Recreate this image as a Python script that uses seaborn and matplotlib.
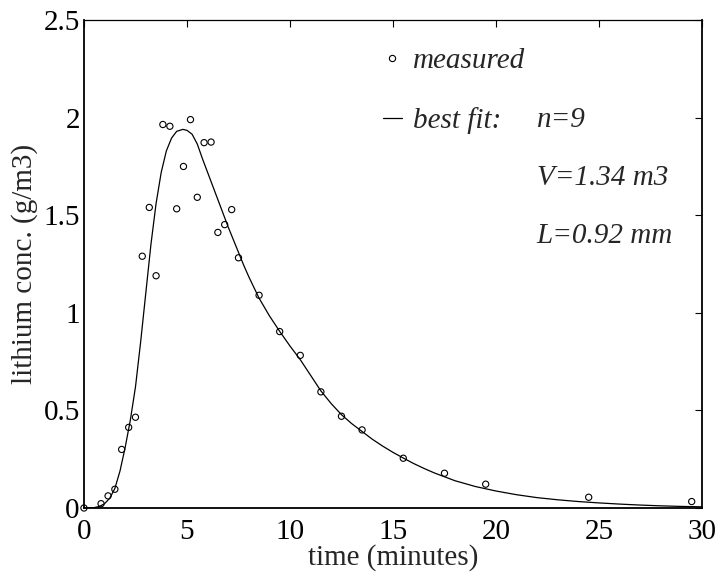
import matplotlib
matplotlib.use("Agg")
import numpy as np
import pandas as pd
import seaborn as sns
import matplotlib.pyplot as plt
from matplotlib.lines import Line2D

# measured lithium concentration
meas_time = [0.0, 0.83, 1.17, 1.5, 1.83, 2.17, 2.5, 2.83, 3.17, 3.5, 3.83, 4.17,
             4.5, 4.83, 5.17, 5.5, 5.83, 6.17, 6.5, 6.83, 7.17, 7.5, 8.5, 9.5,
             10.5, 11.5, 12.5, 13.5, 15.5, 17.5, 19.5, 24.5, 29.5]
meas_conc = [0.0, 0.022, 0.062, 0.096, 0.30, 0.413, 0.465, 1.29, 1.54, 1.19, 1.965, 1.956,
             1.533, 1.75, 1.99, 1.592, 1.872, 1.875, 1.412, 1.452, 1.529, 1.282, 1.09, 0.904,
             0.782, 0.595, 0.47, 0.40, 0.255, 0.178, 0.122, 0.055, 0.033]

# best fit curve
fit_time = [0.0, 0.5, 0.75, 1.0, 1.25, 1.5, 1.75, 2.0, 2.25, 2.5, 2.75, 3.0,
            3.25, 3.5, 3.75, 4.0, 4.25, 4.5, 4.8, 5.0, 5.25, 5.5, 5.75, 6.0,
            6.25, 6.5, 6.75, 7.0, 7.25, 7.5, 7.75, 8.0, 8.5, 9.0, 9.5, 10.0,
            10.5, 11.0, 11.5, 12.0, 12.5, 13.0, 13.5, 14.0, 14.5, 15.0, 15.5, 16.0,
            16.5, 17.0, 17.5, 18.0, 19.0, 20.0, 21.0, 22.0, 23.0, 24.0, 25.0, 26.0,
            27.0, 28.0, 29.0, 30.0]
fit_conc = [0.0, 0.002, 0.008, 0.022, 0.05, 0.10, 0.19, 0.31, 0.45, 0.62, 0.85, 1.10,
            1.35, 1.56, 1.72, 1.83, 1.895, 1.93, 1.94, 1.935, 1.915, 1.865, 1.79, 1.72,
            1.65, 1.58, 1.51, 1.44, 1.375, 1.31, 1.245, 1.185, 1.075, 0.985, 0.905, 0.83,
            0.76, 0.68, 0.60, 0.535, 0.478, 0.432, 0.392, 0.352, 0.317, 0.285, 0.256, 0.228,
            0.203, 0.180, 0.160, 0.140, 0.110, 0.087, 0.068, 0.053, 0.042, 0.033, 0.026, 0.020,
            0.015, 0.011, 0.008, 0.006]

x_ticks = [0, 5, 10, 15, 20, 25, 30]
y_ticks = [0, 0.5, 1, 1.5, 2, 2.5]
y_tick_labels = ["0", "0.5", "1", "1.5", "2", "2.5"]

fit_params = ["n=9", "V=1.34 m3", "L=0.92 mm"]

meas_df = pd.DataFrame({"time": meas_time, "conc": meas_conc})
fit_df = pd.DataFrame({"time": fit_time, "conc": fit_conc})

sns.set_style("white")
plt.rcParams["font.family"] = ["Liberation Serif", "DejaVu Serif"]

FS = 21

fig, ax = plt.subplots(figsize=(7.22, 5.74), dpi=100)
fig.subplots_adjust(left=0.1163, right=0.9723, bottom=0.115, top=0.965)

sns.lineplot(data=fit_df, x="time", y="conc", color="black", linewidth=0.9,
             estimator=None, sort=False, ax=ax)
sns.scatterplot(data=meas_df, x="time", y="conc", marker="o", s=20,
                facecolor="none", edgecolor="black", linewidth=0.8,
                clip_on=False, zorder=3, ax=ax)

ax.set_xlim(0, 30)
ax.set_ylim(0, 2.5)
ax.set_xticks(x_ticks)
ax.set_xticklabels([str(t) for t in x_ticks])
ax.set_yticks(y_ticks)
ax.set_yticklabels(y_tick_labels)

ax.tick_params(axis="both", direction="in", length=5, width=0.8,
               labelsize=FS, top=True, right=True, colors="black")
ax.tick_params(axis="x", pad=8)
ax.tick_params(axis="y", pad=3)

for side in ["left", "bottom", "right"]:
    ax.spines[side].set_linewidth(1.3)
    ax.spines[side].set_color("black")
ax.spines["top"].set_linewidth(0.9)
ax.spines["top"].set_color("black")

ax.set_xlabel("time (minutes)", fontsize=FS, labelpad=-1)
ax.set_ylabel("lithium conc. (g/m3)", fontsize=FS, labelpad=4)

# legend, MATLAB style
handles = [
    Line2D([], [], marker="o", linestyle="none", markersize=4.5,
           markerfacecolor="none", markeredgecolor="black", markeredgewidth=0.8),
    Line2D([], [], color="black", linewidth=0.9),
]
leg = ax.legend(handles, ["measured", "best fit:"], loc="upper left",
                bbox_to_anchor=(0.4838, 0.943), frameon=False,
                prop={"family": "Liberation Serif", "style": "italic", "size": FS},
                handlelength=0.65, handletextpad=0.38, labelspacing=1.12,
                borderpad=0, borderaxespad=0)

param_y = [0.795, 0.676, 0.557]
for txt, yy in zip(fit_params, param_y):
    ax.text(0.7325, yy, txt, transform=ax.transAxes, ha="left", va="center",
            fontsize=FS, style="italic")

plt.savefig("out.png", dpi=100)
plt.close(fig)
